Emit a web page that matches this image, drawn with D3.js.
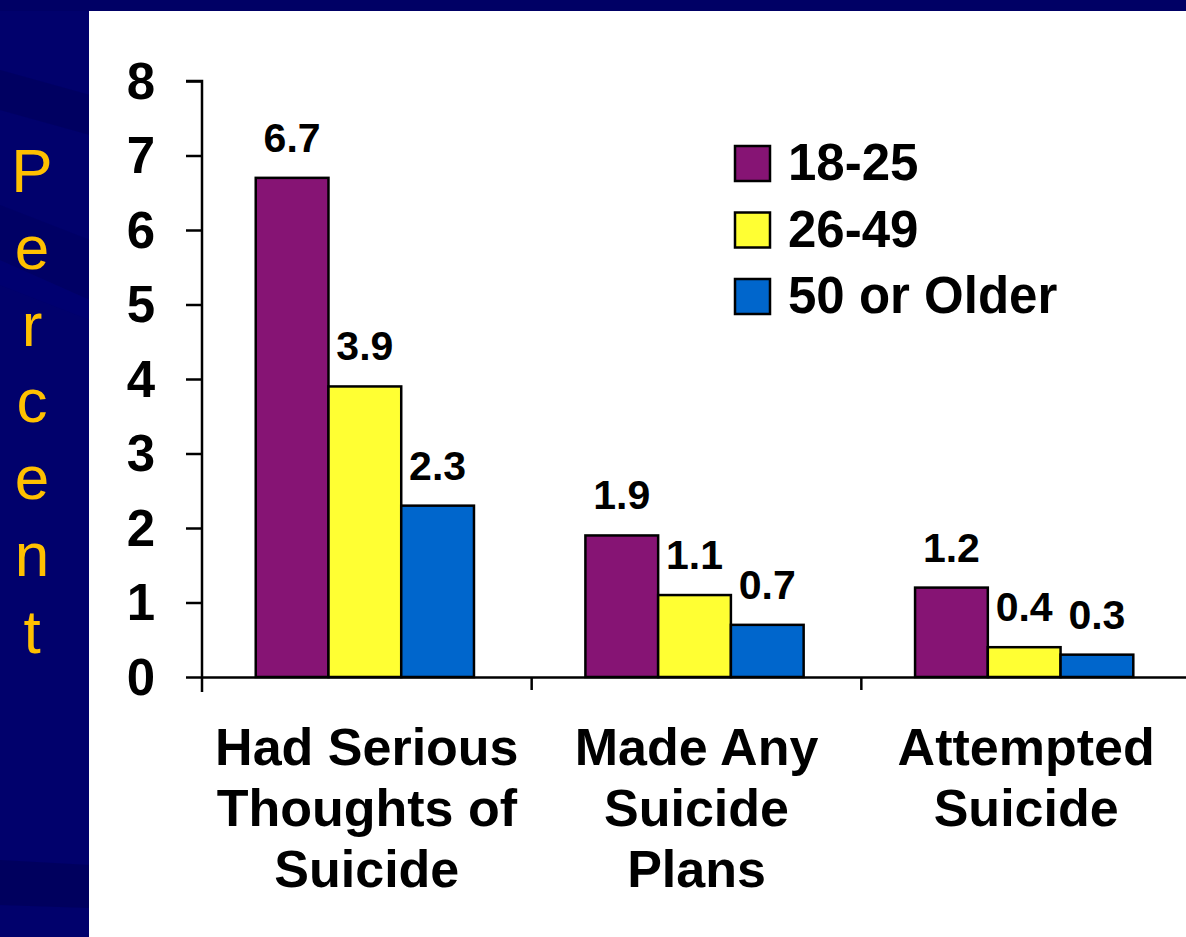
<!DOCTYPE html>
<html>
<head>
<meta charset="utf-8">
<script src="https://cdn.jsdelivr.net/npm/d3@7"></script>
<style>
  html, body { margin: 0; padding: 0; background: #01016c; }
  svg { display: block; }
  text { font-family: "Liberation Sans", Arial, sans-serif; }
</style>
</head>
<body>
<svg id="chart" width="1186" height="937"></svg>
<script>
// ---- data ----
const categories = [
  ["Had Serious", "Thoughts of", "Suicide"],
  ["Made Any", "Suicide", "Plans"],
  ["Attempted", "Suicide"]
];
const categoryKeys = ["Had Serious Thoughts of Suicide", "Made Any Suicide Plans", "Attempted Suicide"];
const seriesNames = ["18-25", "26-49", "50 or Older"];
const values18to25 = [6.7, 1.9, 1.2];
const values26to49 = [3.9, 1.1, 0.4];
const values50plus = [2.3, 0.7, 0.3];
const yTicks = [0, 1, 2, 3, 4, 5, 6, 7, 8];
const seriesColors = ["#861474", "#ffff33", "#0066cc"];
const axisTitleLetters = ["P", "e", "r", "c", "e", "n", "t"];

const seriesValues = [values18to25, values26to49, values50plus];

const svg = d3.select("#chart");
const W = 1186, H = 937;

// background
const bg = svg.append("g");
bg.append("rect").attr("width", W).attr("height", H).attr("fill", "#01016c");
const bands = [
  {d: "M0,70 L90,95 L90,135 L0,110 Z", c: "#00005a", o: 0.6},
  {d: "M0,205 L90,240 L90,300 L0,260 Z", c: "#000060", o: 0.6},
  {d: "M0,260 L90,300 L90,320 L0,285 Z", c: "#000074", o: 0.5},
  {d: "M0,860 L90,865 L90,908 L0,905 Z", c: "#000058", o: 0.7},
  {d: "M0,0 L1186,0 L1186,11 L0,11 Z", c: "#000060", o: 0.6}
];
bg.selectAll("path").data(bands).join("path")
  .attr("d", d => d.d).attr("fill", d => d.c).attr("opacity", d => d.o);

// white panel
svg.append("rect").attr("x", 89).attr("y", 11).attr("width", W - 89).attr("height", H - 11).attr("fill", "#ffffff");

// scales
const x0 = d3.scaleBand().domain(categoryKeys).range([202, 1191]).padding(0);
const bw = x0.bandwidth();
const x1 = d3.scaleBand().domain(seriesNames).range([bw * 0.163, bw * 0.825]).padding(0);
const y = d3.scaleLinear().domain([0, 8]).range([677, 81]);

// bars
const groups = svg.append("g").selectAll("g")
  .data(categoryKeys)
  .join("g")
  .attr("transform", d => `translate(${x0(d)},0)`);

groups.selectAll("rect")
  .data((d, i) => seriesNames.map((s, j) => ({s, v: seriesValues[j][i], j})))
  .join("rect")
  .attr("x", d => x1(d.s))
  .attr("y", d => y(d.v))
  .attr("width", x1.bandwidth())
  .attr("height", d => y(0) - y(d.v))
  .attr("fill", d => seriesColors[d.j])
  .attr("stroke", "#000")
  .attr("stroke-width", 2.5);

groups.selectAll("text.val")
  .data((d, i) => seriesNames.map((s, j) => ({s, v: seriesValues[j][i], j})))
  .join("text")
  .attr("class", "val")
  .attr("x", d => x1(d.s) + x1.bandwidth() / 2)
  .attr("y", d => y(d.v) - 26)
  .attr("text-anchor", "middle")
  .attr("font-size", 41)
  .attr("font-weight", "bold")
  .attr("fill", "#000")
  .text(d => d.v.toFixed(1));

// y axis
const yAxis = svg.append("g")
  .attr("transform", "translate(202,0)")
  .call(d3.axisLeft(y).tickValues(yTicks).tickSize(16).tickPadding(31).tickFormat(d3.format("d")));
yAxis.select(".domain").attr("d", `M-16,${y(8)}H0V692`).attr("stroke", "#000").attr("stroke-width", 2.5).attr("fill", "none");
yAxis.selectAll(".tick line").attr("stroke", "#000").attr("stroke-width", 2.5);
yAxis.selectAll(".tick text")
  .attr("font-family", "'Liberation Sans', Arial, sans-serif")
  .attr("font-size", 51).attr("font-weight", "bold").attr("fill", "#000")
  .attr("dy", "0.34em");

// x axis
const xAxis = svg.append("g")
  .attr("transform", `translate(0,${y(0)})`)
  .call(d3.axisBottom(x0).tickValues([]).tickSizeOuter(0));
xAxis.select(".domain").attr("stroke", "#000").attr("stroke-width", 2.5);
// category boundary ticks
xAxis.selectAll("line.sep")
  .data(categoryKeys.slice(1))
  .join("line")
  .attr("class", "sep")
  .attr("x1", d => x0(d)).attr("x2", d => x0(d))
  .attr("y1", 0).attr("y2", 13)
  .attr("stroke", "#000").attr("stroke-width", 2.5);

// category labels
const catLabels = svg.append("g").selectAll("text")
  .data(categoryKeys)
  .join("text")
  .attr("x", d => x0(d) + bw / 2)
  .attr("y", 765)
  .attr("text-anchor", "middle")
  .attr("font-size", 52)
  .attr("font-weight", "bold")
  .attr("fill", "#000");
catLabels.each(function(d, i) {
  d3.select(this).selectAll("tspan")
    .data(categories[i])
    .join("tspan")
    .attr("x", x0(d) + bw / 2)
    .attr("dy", (t, k) => k === 0 ? 0 : 61)
    .text(t => t);
});

// legend
const legend = svg.append("g").selectAll("g")
  .data(seriesNames)
  .join("g")
  .attr("transform", (d, i) => `translate(735,${146 + i * 66.5})`);
legend.append("rect")
  .attr("width", 35).attr("height", 35)
  .attr("fill", (d, i) => seriesColors[i])
  .attr("stroke", "#000").attr("stroke-width", 2.5);
legend.append("text")
  .attr("x", 53).attr("y", 34)
  .attr("font-size", 51).attr("font-weight", "bold").attr("fill", "#000")
  .text(d => d);

// vertical axis title (stacked letters)
svg.append("g").selectAll("text")
  .data(axisTitleLetters)
  .join("text")
  .attr("x", 32)
  .attr("y", (d, i) => 192 + i * 76.8)
  .attr("text-anchor", "middle")
  .attr("font-size", 62)
  .attr("fill", "#ffc000")
  .text(d => d);
</script>
</body>
</html>
